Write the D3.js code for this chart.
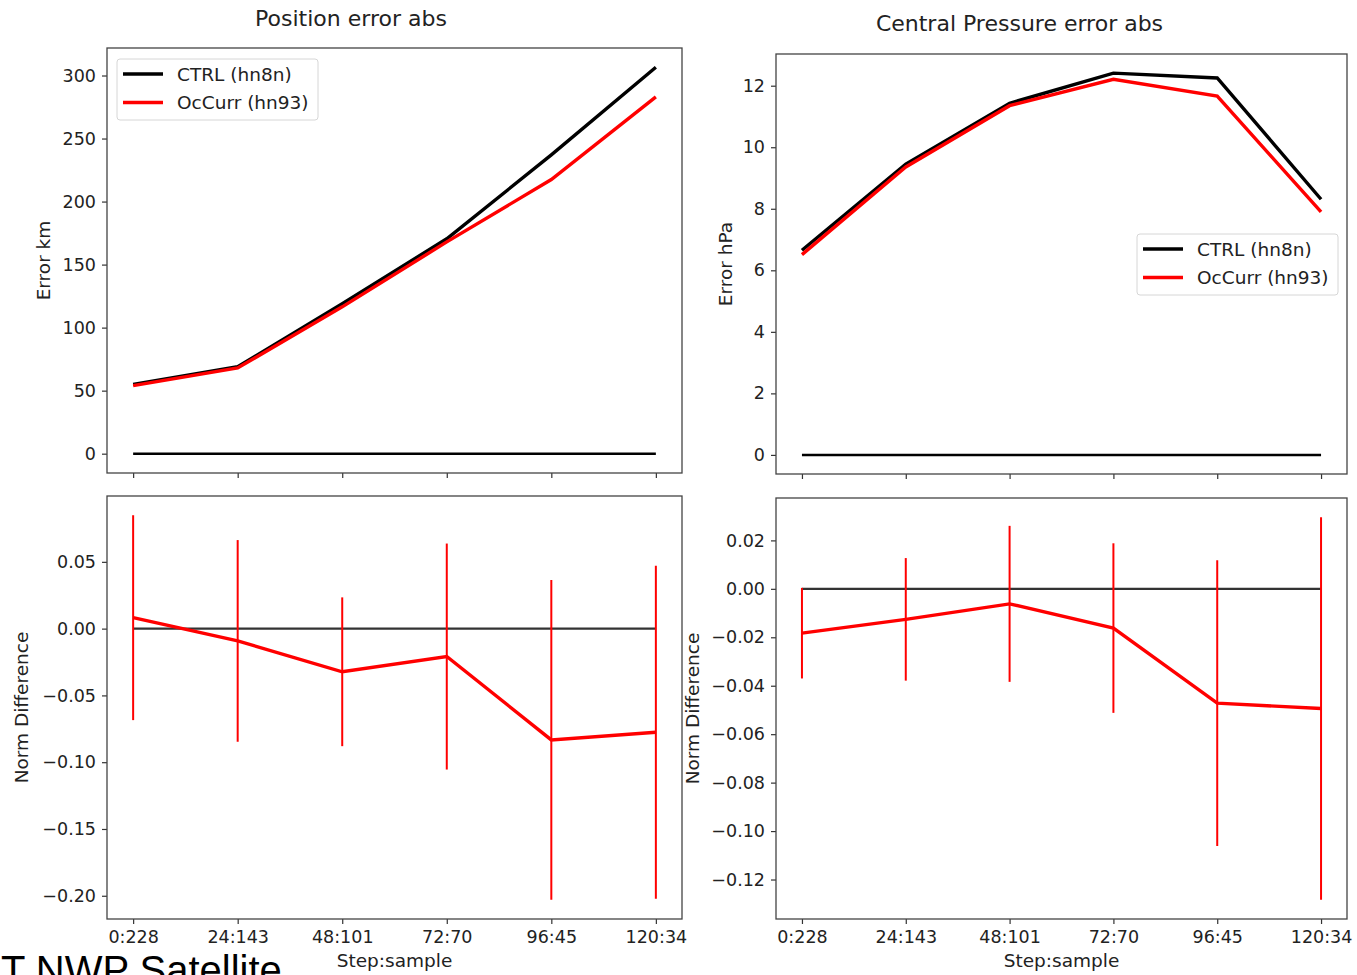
<!DOCTYPE html>
<html>
<head>
<meta charset="utf-8">
<script src="https://cdn.jsdelivr.net/npm/d3@7"></script>
<style>
  html, body { margin: 0; padding: 0; background: #fff; }
  svg { display: block; font-family: "DejaVu Sans", sans-serif; }
</style>
</head>
<body>
<svg id="chart" width="1357" height="975"></svg>
<script>
// ---------- DATA ----------
const steps = ["0:228", "24:143", "48:101", "72:70", "96:45", "120:34"];
const seriesNames = ["CTRL (hn8n)", "OcCurr (hn93)"];
const posCtrl = [55, 69, 119, 170.5, 237, 306.5];
const posOcc  = [54, 68, 116.5, 168, 217.5, 283];
const presCtrl = [6.65, 9.45, 11.43, 12.41, 12.25, 8.31];
const presOcc  = [6.51, 9.36, 11.35, 12.21, 11.66, 7.9];
const posDiff = [0.0082, -0.0092, -0.0323, -0.0209, -0.0833, -0.0776];
const posErr  = [0.0767, 0.0755, 0.0557, 0.0846, 0.1197, 0.1246];
const presDiff = [-0.0183, -0.0126, -0.0062, -0.0162, -0.0472, -0.0494];
const presErr  = [0.0187, 0.0253, 0.0322, 0.0350, 0.0590, 0.0790];
const posTicks = [0, 50, 100, 150, 200, 250, 300];
const presTicks = [0, 2, 4, 6, 8, 10, 12];
const posDiffTicks = [-0.20, -0.15, -0.10, -0.05, 0.00, 0.05];
const presDiffTicks = [-0.12, -0.10, -0.08, -0.06, -0.04, -0.02, 0.00, 0.02];

// ---------- LAYOUT ----------
const svg = d3.select("#chart");
const TICK_FS = 17.5, LABEL_FS = 18.5, TITLE_FS = 22;
const minus = s => s.replace(/-/g, "\u2212");

function padDomain(lo, hi) {
  const m = (hi - lo) * 0.05;
  return [lo - m, hi + m];
}

function makePanel(opt) {
  const { x0, x1, y0, y1 } = opt;
  const g = svg.append("g");
  const xs = d3.scaleLinear().domain([-0.25, steps.length - 1 + 0.25]).range([x0, x1]);
  const ys = d3.scaleLinear().domain(opt.domain).range([y1, y0]);

  // y axis
  const ya = g.append("g").attr("transform", `translate(${x0},0)`)
    .call(d3.axisLeft(ys).tickValues(opt.yticks).tickSize(5).tickPadding(6)
      .tickFormat(opt.fmt));
  ya.select(".domain").remove();
  ya.selectAll("line").attr("stroke", "#333").attr("stroke-width", 1.2);
  ya.selectAll("text").attr("font-size", TICK_FS).attr("fill", "#222")
    .attr("font-family", "DejaVu Sans");

  // x axis
  const xa = g.append("g").attr("transform", `translate(0,${y1})`)
    .call(d3.axisBottom(xs).tickValues(d3.range(steps.length)).tickSize(5).tickPadding(6)
      .tickFormat(opt.xlabels ? (i => steps[i]) : (() => "")));
  xa.select(".domain").remove();
  xa.selectAll("line").attr("stroke", "#333").attr("stroke-width", 1.2);
  xa.selectAll("text").attr("font-size", TICK_FS).attr("fill", "#222")
    .attr("font-family", "DejaVu Sans").attr("dy", "0.74em");

  // frame
  g.append("rect").attr("x", x0).attr("y", y0).attr("width", x1 - x0).attr("height", y1 - y0)
    .attr("fill", "none").attr("stroke", "#444").attr("stroke-width", 1.3);

  // y label
  g.append("text")
    .attr("transform", `translate(${opt.ylabX},${(y0 + y1) / 2}) rotate(-90)`)
    .attr("text-anchor", "middle").attr("dominant-baseline", "central")
    .attr("font-size", LABEL_FS).attr("fill", "#222").text(opt.ylabel);

  if (opt.xlabel) {
    g.append("text").attr("x", (x0 + x1) / 2).attr("y", opt.xlabY)
      .attr("text-anchor", "middle").attr("font-size", LABEL_FS).attr("fill", "#222")
      .text(opt.xlabel);
  }
  if (opt.title) {
    g.append("text").attr("x", opt.titleX).attr("y", opt.titleY)
      .attr("text-anchor", "middle").attr("font-size", TITLE_FS).attr("fill", "#222")
      .text(opt.title);
  }
  return { g, xs, ys };
}

const line = (xs, ys) => d3.line().x((d, i) => xs(i)).y(d => ys(d));

// ---------- TOP LEFT: Position error ----------
(function () {
  const p = makePanel({
    x0: 107, x1: 682, y0: 48, y1: 473,
    domain: padDomain(0, d3.max(posCtrl.concat(posOcc))),
    yticks: posTicks, fmt: d => minus(d3.format("d")(d)),
    ylabel: "Error km", ylabX: 43,
    title: "Position error abs", titleX: 351, titleY: 26
  });
  const zeros = steps.map(() => 0);
  p.g.append("path").datum(zeros).attr("d", line(p.xs, p.ys)).attr("fill", "none")
    .attr("stroke", "#000").attr("stroke-width", 2.5);
  p.g.append("path").datum(posCtrl).attr("d", line(p.xs, p.ys)).attr("fill", "none")
    .attr("stroke", "#000").attr("stroke-width", 3.4);
  p.g.append("path").datum(posOcc).attr("d", line(p.xs, p.ys)).attr("fill", "none")
    .attr("stroke", "#ff0000").attr("stroke-width", 3.4);
  drawLegend(p.g, 117, 59, 201, 61);
})();

// ---------- TOP RIGHT: Central pressure error ----------
(function () {
  const p = makePanel({
    x0: 776, x1: 1347, y0: 54, y1: 474,
    domain: padDomain(0, d3.max(presCtrl.concat(presOcc))),
    yticks: presTicks, fmt: d => minus(d3.format("d")(d)),
    ylabel: "Error hPa", ylabX: 725,
    title: "Central Pressure error abs", titleX: 1019.5, titleY: 31
  });
  const zeros = steps.map(() => 0);
  p.g.append("path").datum(zeros).attr("d", line(p.xs, p.ys)).attr("fill", "none")
    .attr("stroke", "#000").attr("stroke-width", 2.5);
  p.g.append("path").datum(presCtrl).attr("d", line(p.xs, p.ys)).attr("fill", "none")
    .attr("stroke", "#000").attr("stroke-width", 3.4);
  p.g.append("path").datum(presOcc).attr("d", line(p.xs, p.ys)).attr("fill", "none")
    .attr("stroke", "#ff0000").attr("stroke-width", 3.4);
  drawLegend(p.g, 1137, 234, 201, 61);
})();

// ---------- BOTTOM PANELS: Norm difference ----------
function diffPanel(x0, x1, y0, y1, vals, errs, ticks, ylabX) {
  const lo = d3.min(vals.map((v, i) => v - errs[i]));
  const hi = d3.max(vals.map((v, i) => v + errs[i]));
  const p = makePanel({
    x0, x1, y0, y1,
    domain: padDomain(lo, hi),
    yticks: ticks, fmt: d => minus(d3.format(".2f")(d)),
    ylabel: "Norm Difference", ylabX,
    xlabels: true, xlabel: "Step:sample", xlabY: 967
  });
  const zeros = steps.map(() => 0);
  p.g.append("path").datum(zeros).attr("d", line(p.xs, p.ys)).attr("fill", "none")
    .attr("stroke", "#333").attr("stroke-width", 2.2);
  p.g.selectAll("line.err").data(vals).enter().append("line")
    .attr("x1", (d, i) => p.xs(i)).attr("x2", (d, i) => p.xs(i))
    .attr("y1", (d, i) => p.ys(d - errs[i])).attr("y2", (d, i) => p.ys(d + errs[i]))
    .attr("stroke", "#ff0000").attr("stroke-width", 2);
  p.g.append("path").datum(vals).attr("d", line(p.xs, p.ys)).attr("fill", "none")
    .attr("stroke", "#ff0000").attr("stroke-width", 3.4);
}
diffPanel(107, 682, 496, 919, posDiff, posErr, posDiffTicks, 21);
diffPanel(776, 1347, 498, 919, presDiff, presErr, presDiffTicks, 692);

// ---------- LEGEND ----------
function drawLegend(g, x, y, w, h) {
  const lg = g.append("g");
  lg.append("rect").attr("x", x).attr("y", y).attr("width", w).attr("height", h)
    .attr("rx", 3).attr("fill", "#fff").attr("fill-opacity", 0.8)
    .attr("stroke", "#d6d6d6").attr("stroke-width", 1);
  const colors = ["#000", "#ff0000"];
  seriesNames.forEach((name, i) => {
    const cy = y + 15 + i * 28.5;
    lg.append("line").attr("x1", x + 6).attr("x2", x + 46).attr("y1", cy).attr("y2", cy)
      .attr("stroke", colors[i]).attr("stroke-width", 3.4);
    lg.append("text").attr("x", x + 60).attr("y", cy).attr("dominant-baseline", "central")
      .attr("font-size", LABEL_FS).attr("fill", "#222").text(name);
  });
}

// ---------- cut-off caption at bottom (partially visible in the reference) ----------
svg.append("text").attr("x", 1).attr("y", 984)
  .attr("font-family", "Liberation Sans, Arial, sans-serif").attr("font-size", 40)
  .attr("fill", "#000").text("T NWP Satellite");
</script>
</body>
</html>
